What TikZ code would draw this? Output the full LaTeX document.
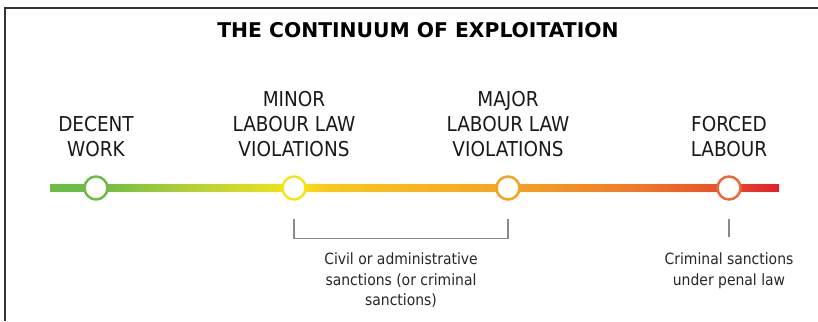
\documentclass[tikz,border=0pt]{standalone}
\usepackage{fontspec}
\setmainfont{DejaVu Sans Condensed}
\newfontfamily\headfont{DejaVu Sans}
\usepackage{xcolor}
\usepackage{tikz}
\usetikzlibrary{positioning}

\definecolor{dwgreen}{HTML}{6ABD45}
\definecolor{limegreen}{HTML}{B8D132}
\definecolor{lawyellow}{HTML}{F4E41A}
\definecolor{goldish}{HTML}{F9C81A}
\definecolor{laworange}{HTML}{F6A322}
\definecolor{deeporange}{HTML}{F07A28}
\definecolor{florange}{HTML}{EA4B2B}
\definecolor{flred}{HTML}{E31E2B}
\definecolor{ringred}{HTML}{EC6A3A}
\definecolor{bracketgray}{HTML}{8A8A8A}

% the path is mapped onto 25bp--75bp of the shading
\pgfdeclarehorizontalshading{exploitation}{100bp}{color(0bp)=(dwgreen); color(25bp)=(dwgreen); color(28.15bp)=(dwgreen); color(35bp)=(limegreen); color(41.75bp)=(lawyellow); color(44bp)=(goldish); color(56.4bp)=(laworange); color(65bp)=(deeporange); color(71.5bp)=(florange); color(75bp)=(flred); color(100bp)=(flred)}

\begin{document}
\begin{tikzpicture}[x=1pt, y=1pt,
    ring/.style={circle, fill=white, line width=2.5pt, minimum size=23pt, inner sep=0pt},
    stage/.style={anchor=south, align=center, inner sep=0pt, text=black!90,
      font=\fontsize{20.5}{25}\selectfont},
    note/.style={anchor=north, align=center, inner sep=0pt, text=black!85,
      font=\fontsize{15.5}{20.5}\selectfont},
    bracket/.style={bracketgray, line width=1.3pt}]
  \useasboundingbox (0,0) rectangle (818,321);
  % frame
  \draw[black!80, line width=1.5pt] (5,0) -- (5,313) -- (818,313);
  % title
  \node[font=\headfont\bfseries\fontsize{20.3}{22}\selectfont] (title) at (418,291) {THE CONTINUUM OF EXPLOITATION};
  % the gradient line
  \shade[shading=exploitation] (50,129.5) rectangle (779,136.5);
  \node[ring, draw=dwgreen] (decent) at (96,133) {};
  \node[ring, draw=lawyellow] (minor) at (294,133) {};
  \node[ring, draw=laworange] (major) at (508,133) {};
  \node[ring, draw=ringred] (forced) at (729,133) {};
  % stage labels
  \node[stage, above=18pt of decent] (decentlbl) {DECENT\\WORK};
  \node[stage, above=18pt of minor] (minorlbl) {MINOR\\LABOUR LAW\\VIOLATIONS};
  \node[stage, above=18pt of major] (majorlbl) {MAJOR\\LABOUR LAW\\VIOLATIONS};
  \node[stage, above=18pt of forced] (forcedlbl) {FORCED\\LABOUR};
  % sanctions
  \draw[bracket] ([yshift=-18pt]minor.south) -- ++(0,-20) -| ([yshift=-18pt]major.south);
  \draw[bracket] ([yshift=-18pt]forced.south) -- ++(0,-18);
  \node[note] (civil) at (401,68) {Civil or administrative\\sanctions (or criminal\\sanctions)};
  \node[note] (penal) at (729,68) {Criminal sanctions\\under penal law};
\end{tikzpicture}
\end{document}
